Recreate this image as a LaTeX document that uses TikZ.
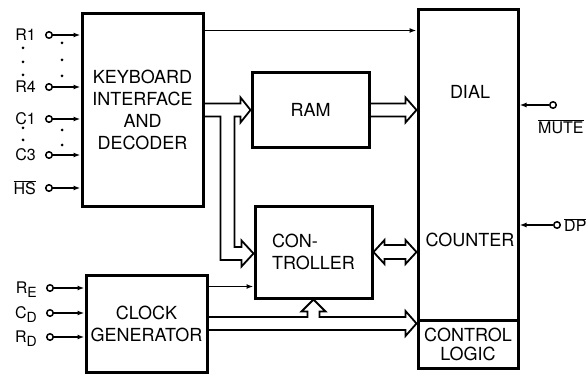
\documentclass[tikz,border=0pt]{standalone}
\usepackage{fontspec}
\setmainfont{TeX Gyre Heros}
\usepackage{tikz}
\usetikzlibrary{calc,positioning}
\usetikzlibrary{arrows.meta}
\tikzset{
    blockbox/.style={
        draw,
        line width=3pt,
        inner sep=0pt,
        align=center,
        font=\fontsize{18}{22}\selectfont
    },
    blocktext/.style={
        inner sep=0pt,
        font=\fontsize{18}{22}\selectfont
    },
    pincirc/.style={
        draw, circle,
        line width=1.5pt,
        inner sep=0pt,
        minimum size=6.5pt
    },
    pinlabel/.style={
        inner sep=0pt,
        font=\fontsize{16}{18}\selectfont
    },
    sigline/.style={
        line width=1.8pt,
        -{Latex[length=7pt,width=5pt]}
    },
    fatline/.style={
        line width=1.8pt,
        line join=miter
    }
}
% subscript the way the sheet prints it
\newcommand{\pinsub}[2]{#1\raisebox{-4pt}{\fontsize{14}{14}\selectfont #2}}
% hollow bus arrow pointing right, from #1 to the tip #2
\newcommand{\fatright}[2]{%
    \draw[fatline] ($(#1)+(0,-6.5)$) -- ($(#2)+(-11,-6.5)$) -- ($(#2)+(-11,-12.5)$) -- (#2)
        -- ($(#2)+(-11,12.5)$) -- ($(#2)+(-11,6.5)$) -- ($(#1)+(0,6.5)$);}

\begin{document}
\begin{tikzpicture}[x=1pt,y=-1pt]
        \useasboundingbox (0,0) rectangle (588,374);

        % blocks
        \node[blockbox, minimum width=121pt, minimum height=192pt] (kbd) at (142.5,110) {KEYBOARD\\INTERFACE\\AND\\DECODER};
        \node[blockbox, minimum width=117pt, minimum height=75pt] (ram) at (310.5,110) {RAM};
        \node[blockbox, minimum width=117pt, minimum height=92pt, align=left] (ctrl) at (313.5,252) {CON-\\TROLLER};
        \node[blockbox, minimum width=121pt, minimum height=97pt] (clk) at (146.5,323.5) {CLOCK\\GENERATOR};
        \node[blockbox, minimum width=100pt, minimum height=358pt] (dial) at (468,189) {};
        \node[blockbox, minimum width=100pt, minimum height=48pt, anchor=south,
              font=\fontsize{18}{19}\selectfont] (logic) at (dial.south) {CONTROL\\LOGIC};
        \node[blocktext] (dialtxt) at (470,92) {DIAL};
        \node[blocktext] (cnttxt) at (470,240) {COUNTER};

        % keyboard pins
        \foreach \name/\txt/\y in {r1/R1/35, r4/R4/87, c1/C1/119, c3/C3/155, hs/{$\overline{\mbox{HS}}$}/188} {
            \node[pincirc] (\name) at (49,\y) {};
            \node[pinlabel, anchor=east] (\name lbl) at (36,\y) {\txt};
            \draw[sigline] (\name) -- (\name -| kbd.west);
        }
        \foreach \y in {48,62,75} \fill (23,\y) circle (1.5pt);
        \foreach \y in {43,60,76} \fill (62,\y) circle (1.5pt);
        \foreach \y in {128,140} \fill (23,\y) circle (1.5pt);
        \foreach \y in {130,145} \fill (62,\y) circle (1.5pt);

        % clock pins
        \foreach \name/\a/\b/\y in {re/R/E/288, cd/C/D/313, rd/R/D/337} {
            \node[pincirc] (\name) at (50,\y) {};
            \node[pinlabel, anchor=base east] (\name lbl) at (37,\y+5) {\pinsub{\a}{\b}};
            \draw[sigline] (\name) -- (\name -| clk.west);
        }

        % outputs
        \node[pincirc] (mute) at (553,105) {};
        \node[pinlabel, anchor=west] (mutelbl) at (538,127) {$\overline{\mbox{MUTE}}$};
        \draw[sigline] (mute) -- (mute -| dial.east);
        \node[pincirc] (dp) at (557,225) {};
        \node[pinlabel, anchor=west] (dplbl) at (564,225) {$\overline{\mbox{DP}}$};
        \draw[sigline] (dp) -- (dp -| dial.east);

        % single lines
        \coordinate (kout) at ($(kbd.north east)+(0,18)$);
        \draw[sigline] (kout) -- (kout -| dial.west);
        \coordinate (cout) at ($(clk.north east)+(0,13)$);
        \draw[sigline] (cout) -- (cout -| ctrl.west);

        % buses
        \coordinate (ktip) at (ram.west);
        \coordinate (ctip) at ($(ctrl.west)+(0,1.5)$);
        \draw[fatline] ($(kbd.east)+(0,-6.5)$) -- ($(ktip)+(-10,-6.5)$) -- ($(ktip)+(-10,-12.5)$) -- (ktip)
            -- ($(ktip)+(-10,12.5)$) -- ($(ktip)+(-10,6.5)$) -- ($(ktip)+(-16,6.5)$)
            -- ($(ctip)+(-19,-6.5)$) -- ($(ctip)+(-12,-6.5)$) -- ($(ctip)+(-12,-13)$) -- (ctip)
            -- ($(ctip)+(-12,13)$) -- ($(ctip)+(-12,6.5)$) -- ($(ctip)+(-33,6.5)$)
            -- ($(ktip)+(-30,6.5)$) -- ($(kbd.east)+(0,6.5)$);

        \coordinate (rtip) at (ram.east -| dial.west);
        \fatright{ram.east}{rtip}

        \coordinate (dtip) at (ctrl.east -| dial.west);
        \draw[fatline] (ctrl.east) -- ($(ctrl.east)+(11,-12)$) -- ($(ctrl.east)+(11,-7)$)
            -- ($(dtip)+(-11,-7)$) -- ($(dtip)+(-11,-12)$) -- (dtip) -- ($(dtip)+(-11,12)$)
            -- ($(dtip)+(-11,7)$) -- ($(ctrl.east)+(11,7)$) -- ($(ctrl.east)+(11,12)$) -- cycle;

        \coordinate (ltip) at (clk.east -| dial.west);
        \coordinate (utip) at (ctrl.south);
        \coordinate (ubase) at (utip |- clk.east);
        \draw[fatline] ($(clk.east)+(0,-6.5)$) -- ($(ubase)+(-6,-6.5)$) -- ($(utip)+(-6,12)$)
            -- ($(utip)+(-12,12)$) -- (utip) -- ($(utip)+(12,12)$) -- ($(utip)+(6,12)$)
            -- ($(ubase)+(6,-6.5)$) -- ($(ltip)+(-11,-6.5)$) -- ($(ltip)+(-11,-12.5)$) -- (ltip)
            -- ($(ltip)+(-11,12.5)$) -- ($(ltip)+(-11,6.5)$) -- ($(clk.east)+(0,6.5)$);
\end{tikzpicture}
\end{document}
